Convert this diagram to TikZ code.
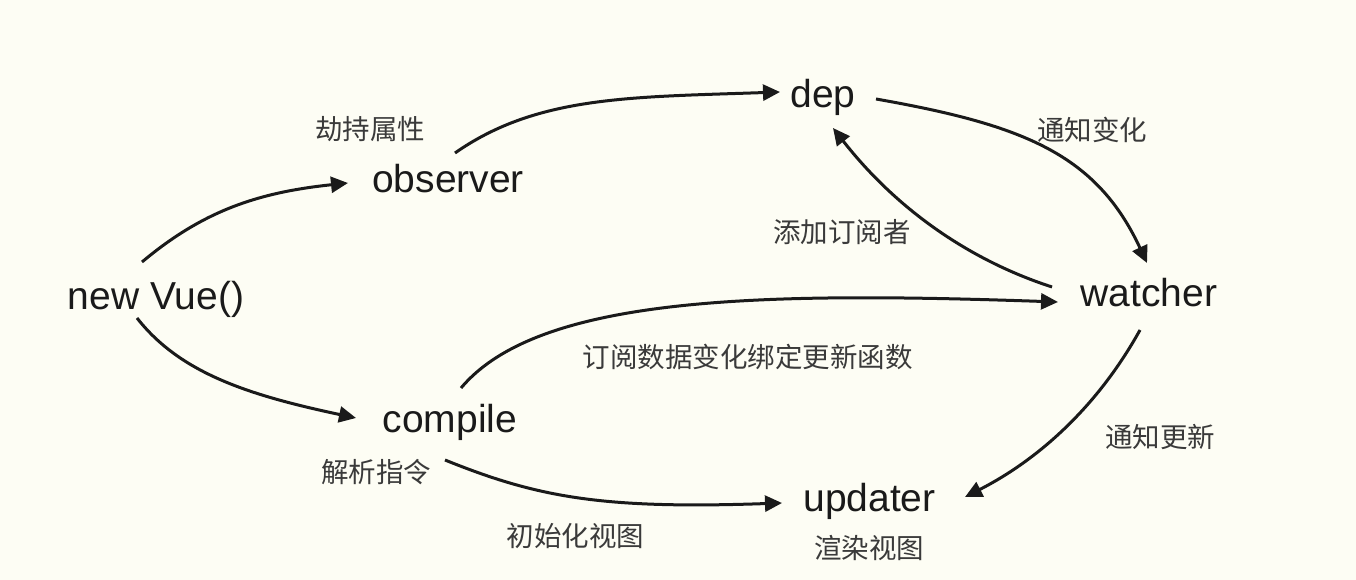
\documentclass[tikz,border=0pt]{standalone}
\usepackage{fontspec}
\setmainfont{Liberation Sans}
\newfontfamily\cjk{Noto Sans CJK SC}
\usetikzlibrary{arrows.meta}
\definecolor{paper}{RGB}{253,253,244}
\definecolor{ink}{RGB}{26,26,26}
\definecolor{note}{RGB}{58,58,58}

\tikzset{
  stage/.style={anchor=base,inner sep=0pt,text=ink,font=\fontsize{39}{44}\selectfont},
  tag/.style={inner sep=0pt,text=note,font=\cjk\fontsize{27.5}{30}\selectfont},
  flow/.style={draw=ink,line width=3pt,-{Triangle[length=17pt,width=16pt]}}
}

\begin{document}
\begin{tikzpicture}[x=1pt,y=1pt]
\fill[paper] (0,0) rectangle (1356,580);

\node[stage] (vue) at (156,270) {new Vue()};
\node[stage] (obs) at (448,387) {observer};
\node[stage] (dep) at (823,472) {dep};
\node[stage] (wat) at (1149,273) {watcher};
\node[stage] (com) at (450,147) {compile};
\node[stage] (upd) at (869.5,68) {updater};

\node[tag] (hijack) at (370,450.5) {劫持属性};
\node[tag] (notify) at (1092,450.5) {通知变化};
\node[tag] (addsub) at (842,347.5) {添加订阅者};
\node[tag] (bind) at (747.5,223) {订阅数据变化绑定更新函数};
\node[tag] (update) at (1160,143) {通知更新};
\node[tag] (parse) at (376,107.5) {解析指令};
\node[tag] (init) at (575.5,43.5) {初始化视图};
\node[tag] (render) at (869,32) {渲染视图};

\draw[flow] ([shift={(-14,48)}]vue.base) .. controls +(40:80) and +(186:90) .. ([shift={(-100,10)}]obs.base);
\draw[flow] ([shift={(-19,-8)}]vue.base) .. controls +(-52:70) and +(168:110) .. ([shift={(-94,15)}]com.base);
\draw[flow] ([shift={(7,40)}]obs.base) .. controls +(35:100) and +(182:150) .. ([shift={(-43,16)}]dep.base);
\draw[flow] ([shift={(53,9)}]dep.base) .. controls +(-10:150) and +(115:120) .. ([shift={(-2,44)}]wat.base);
\draw[flow] ([shift={(-97,20)}]wat.base) .. controls +(162:90) and +(-52:100) .. ([shift={(10,-20)}]dep.base);
\draw[flow] ([shift={(11,45)}]com.base) .. controls +(50:120) and +(178:300) .. ([shift={(-91,5)}]wat.base);
\draw[flow] ([shift={(-5,-27)}]com.base) .. controls +(-22:100) and +(182:180) .. ([shift={(-87.5,9)}]upd.base);
\draw[flow] ([shift={(-9,-23)}]wat.base) .. controls +(241:90) and +(27:80) .. ([shift={(95.5,15)}]upd.base);
\end{tikzpicture}
\end{document}
